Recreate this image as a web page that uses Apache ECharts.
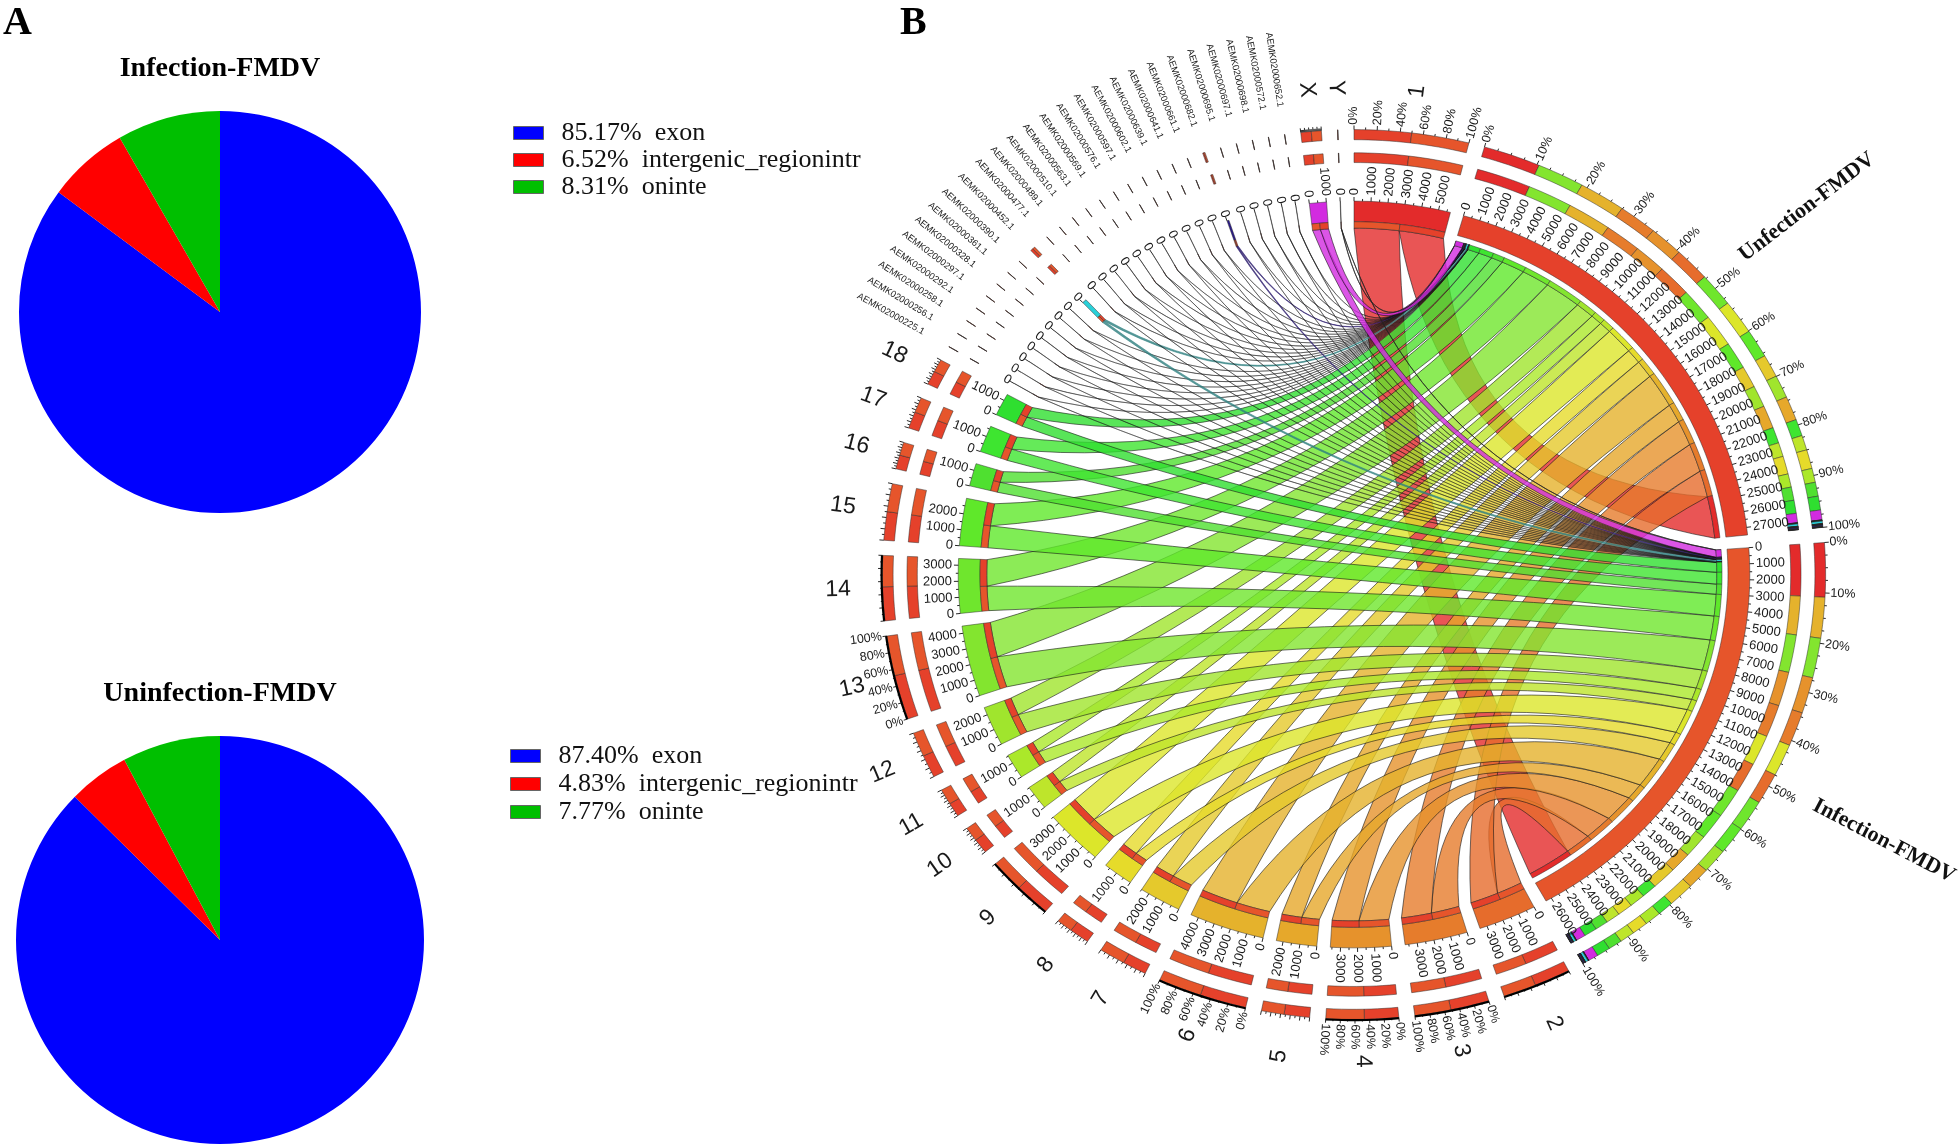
<!DOCTYPE html>
<html>
<head>
<meta charset="utf-8">
<title>FMDV pie and chord</title>
<script src="https://cdn.jsdelivr.net/npm/echarts@6/dist/echarts.min.js"></script>
<style>
html,body{margin:0;padding:0;background:#fff}
#main{width:1960px;height:1144px}
</style>
</head>
<body>
<div id="main"></div>
<script>
// panel A
var pieColors = ['#0000ff', '#ff0000', '#00bf00'];
var infectionLegend = ['85.17%  exon', '6.52%  intergenic_regionintr', '8.31%  oninte'];
var infectionValues = [85.17, 6.52, 8.31];
var uninfectionLegend = ['87.40%  exon', '4.83%  intergenic_regionintr', '7.77%  oninte'];
var uninfectionValues = [87.40, 4.83, 7.77];

// panel B: chromosomes, read from the ribbon ends
var chromNames = ['1','2','3','4','5','6','7','8','9','10','11','12','13','14','15','16','17','18'];
var chromToUnfection = [2850,1800,1920,1700,1270,2320,1200,1000,1800,780,740,1200,2350,1780,1500,740,880,730];
var chromToInfection = [2860,1640,1800,1900,1130,2150,1300,800,1700,750,820,1280,2100,1640,1480,690,800,680];
var chromColors = ['#e32b2b','#e66c2c','#e67c2c','#e6922c','#e6a82b','#e5b22c','#e5c92c','#e6db2a','#dce62a',
  '#bee52b','#abe82a','#a0e52d','#83e52f','#6fe62d','#5fe82a','#4fe030','#3ee530','#2fdf30'];

var contigNames = ['AEMK02000225.1','AEMK02000256.1','AEMK02000258.1','AEMK02000292.1','AEMK02000297.1','AEMK02000328.1',
  'AEMK02000361.1','AEMK02000390.1','AEMK02000452.1','AEMK02000477.1','AEMK02000489.1','AEMK02000510.1','AEMK02000563.1',
  'AEMK02000569.1','AEMK02000576.1','AEMK02000597.1','AEMK02000602.1','AEMK02000639.1','AEMK02000641.1','AEMK02000661.1',
  'AEMK02000682.1','AEMK02000695.1','AEMK02000697.1','AEMK02000698.1','AEMK02000572.1','AEMK02000652.1'];
var contigToUnfection = [8,8,8,8,8,8,8,8,130,8,8,8,8,8,8,8,8,8,8,8,60,8,8,8,8,8];
var contigToInfection = [6,6,6,6,6,6,6,6,130,6,6,6,6,6,6,6,6,6,6,6,60,6,6,6,6,6];
var contigColors = {8:'#2ad0d8', 20:'#2a1a8c'};
var contigRibbonColors = {8:'#2e7f80', 20:'#2a1a6c'};

var sexNames = ['X','Y'];
var sexToUnfection = [520,12];
var sexToInfection = [500,8];
var sexColors = ['#d22be0','#222222'];

var unfectionColor = '#e5412b';
var infectionColor = '#e6552b';

// stacking order of the two outer rings on the big sectors
var unfectionRing = ['1','13','6','3','4','2','14','9','15','7','12','5','17','10','8','11','16','18','X'];
var infectionRing = ['1','6','13','4','3','9','2','14','15','12','5','7','17','11','8','10','16','18','X'];
var percentLabelled = ['1','3','4','6','13'];
var boldEdge = ['2','3','4','6','9','13','14'];

var GAP = 1.96;
var FLIP_AT = 184.5;
var sans = '"Liberation Sans", Arial, sans-serif';
var serif = '"Liberation Serif", "Times New Roman", serif';

// sector table, clockwise from 12 o'clock
var sectors = [];
function addSource(name, unf, inf, color, kind, ribbon) {
  sectors.push({name:name, unf:unf, inf:inf, size:unf+inf, color:color, kind:kind, ribbon:ribbon});
}
addSource(chromNames[0], chromToUnfection[0], chromToInfection[0], chromColors[0], 'chrom');
sectors.push({name:'Unfection-FMDV', kind:'big', color:unfectionColor});
sectors.push({name:'Infection-FMDV', kind:'big', color:infectionColor});
for (var i = 1; i < chromNames.length; i++) addSource(chromNames[i], chromToUnfection[i], chromToInfection[i], chromColors[i], 'chrom');
for (i = 0; i < contigNames.length; i++) addSource(contigNames[i], contigToUnfection[i], contigToInfection[i], contigColors[i] || '#111111', 'contig', contigRibbonColors[i]);
for (i = 0; i < sexNames.length; i++) addSource(sexNames[i], sexToUnfection[i], sexToInfection[i], sexColors[i], 'sex');

var sources = sectors.filter(function (s) { return s.kind !== 'big'; });
var bigUnf = sectors[1], bigInf = sectors[2];
bigUnf.size = sources.reduce(function (a, s) { return a + s.unf; }, 0);
bigInf.size = sources.reduce(function (a, s) { return a + s.inf; }, 0);
var total = sectors.reduce(function (a, s) { return a + s.size; }, 0);
var perUnit = (360 - GAP * sectors.length) / total;
var pos = 0;
sectors.forEach(function (s) { s.a0 = pos; s.a1 = pos + s.size * perUnit; pos = s.a1 + GAP; });

function findSector(name) { return sectors.filter(function (s) { return s.name === name; })[0]; }

// geometry in unit-circle data space, the cartesian axes take it to pixels
function xy(r, deg) { var t = deg * Math.PI / 180; return [r * Math.sin(t), r * Math.cos(t)]; }
function arc(r, a0, a1) {
  var n = Math.max(1, Math.ceil(Math.abs(a1 - a0))), pts = [];
  for (var k = 0; k <= n; k++) pts.push(xy(r, a0 + (a1 - a0) * k / n));
  return pts;
}
function bezier(a, ra, b, rb) {
  var d = ((b - a) % 360 + 360) % 360;
  var short = d > 180 ? 360 - d : d;
  var mid = d > 180 ? a - short / 2 : a + short / 2;
  var c = xy(0.56 * (1 - short / 180), mid), p0 = xy(ra, a), p1 = xy(rb, b), pts = [];
  for (var k = 1; k < 24; k++) {
    var t = k / 24, u = 1 - t;
    pts.push([u*u*p0[0] + 2*u*t*c[0] + t*t*p1[0], u*u*p0[1] + 2*u*t*c[1] + t*t*p1[1]]);
  }
  return pts;
}
function cell(a0, a1, r0, r1) { return arc(r1, a0, a1).concat(arc(r0, a1, a0)); }
function rgba(hex, alpha) {
  var n = parseInt(hex.slice(1), 16);
  return 'rgba(' + (n >> 16) + ',' + ((n >> 8) & 255) + ',' + (n & 255) + ',' + alpha + ')';
}

var ribbons = [], rings = [], ticks = [], labels = [];
var R_THICK = [0.942, 0.997], R_THIN = [0.925, 0.942], R_BIGTHIN = [0.914, 0.927];
var R_RING1 = [1.10, 1.126], R_RING2 = [1.161, 1.188];

// inner ends on the two big sectors run the reverse of the circle order
var inward = sources.slice(1).reverse().concat([sources[0]]);
var offU = bigUnf.a0, offI = bigInf.a0;
inward.forEach(function (s) {
  s.uA0 = offU; offU += s.unf * perUnit; s.uA1 = offU;
  s.iA0 = offI; offI += s.inf * perUnit; s.iA1 = offI;
  rings.push({pts:cell(s.uA0, s.uA1, R_BIGTHIN[0], R_BIGTHIN[1]), fill:s.color});
  rings.push({pts:cell(s.iA0, s.iA1, R_BIGTHIN[0], R_BIGTHIN[1]), fill:s.color});
});

// ribbons and sector cells
sources.forEach(function (s) {
  var mid = s.a0 + s.inf * perUnit;
  var plain = s.color === '#111111';
  var base = s.ribbon || s.color;
  var fill = rgba(base, plain ? 0.6 : 0.8);
  var stroke = s.kind === 'chrom' || s.name === 'X' ? 'rgba(20,20,20,0.85)' : (plain ? 'rgba(25,25,25,0.72)' : rgba(base, 0.95));
  var lw = s.kind === 'contig' ? 0.6 : 0.7;
  [[s.iA0, s.iA1, s.a0, mid], [s.uA0, s.uA1, mid, s.a1]].forEach(function (e) {
    var pts = arc(R_THIN[0], e[2], e[3]).concat(bezier(e[3], R_THIN[0], e[0], R_BIGTHIN[0]))
      .concat(arc(R_BIGTHIN[0], e[0], e[1])).concat(bezier(e[1], R_BIGTHIN[0], e[2], R_THIN[0]));
    ribbons.push({pts:pts, fill:fill, stroke:stroke, lw:lw});
  });
  rings.push({pts:cell(s.a0, s.a1, R_THICK[0], R_THICK[1]), fill:s.color});
  rings.push({pts:cell(s.a0, mid, R_THIN[0], R_THIN[1]), fill:infectionColor});
  rings.push({pts:cell(mid, s.a1, R_THIN[0], R_THIN[1]), fill:unfectionColor});
  var split = s.a0 + s.unf * perUnit;
  [R_RING1, R_RING2].forEach(function (r) {
    rings.push({pts:cell(s.a0, split, r[0], r[1]), fill:unfectionColor});
    rings.push({pts:cell(split, s.a1, r[0], r[1]), fill:infectionColor});
  });
});

// big sector rings, stacked by size
[[bigUnf, unfectionRing, 'unf'], [bigInf, infectionRing, 'inf']].forEach(function (b) {
  var s = b[0], key = b[2], named = b[1].map(findSector);
  var rest = sources.filter(function (x) { return named.indexOf(x) < 0; });
  var off = s.a0;
  rings.push({pts:cell(s.a0, s.a1, R_THICK[0], R_THICK[1]), fill:s.color});
  named.concat(rest).forEach(function (x) {
    var w = x[key] * perUnit;
    [R_RING1, R_RING2].forEach(function (r) {
      rings.push({pts:cell(off, off + w, r[0], r[1]), fill:x.color});
    });
    off += w;
  });
});

function addTick(r, ang, len, lw) { ticks.push({p0:xy(r, ang), p1:xy(r + len, ang), lw:lw}); }
function addLabel(text, r, ang, font, center) { labels.push({text:text, r:r, ang:ang, font:font, center:center}); }

// axes
sectors.forEach(function (s) {
  var v, midAng = (s.a0 + s.a1) / 2;
  for (v = 0; v <= s.size; v += 500) {
    var major = v % 1000 === 0;
    if (s.kind === 'contig' && v > 0) break;
    addTick(0.997, s.a0 + v * perUnit, major ? 0.011 : 0.006, 0.9);
    if (major) addLabel(String(v), s.kind === 'contig' ? 1.007 : 1.013, s.a0 + v * perUnit, '13px ' + sans);
  }
  if (s.kind === 'contig') {
    addLabel(s.name, 1.262, midAng, '9.3px ' + sans);
    return;
  }
  if (s.name === 'Y') { addLabel('Y', 1.30, midAng, '23px ' + sans, true); return; }
  var labelled = s.kind === 'big' || percentLabelled.indexOf(s.name) >= 0;
  var step = s.kind === 'big' ? 2.5 : (s.name === 'X' ? 5 : 10);
  var every = s.kind === 'big' ? 10 : 20;
  for (v = 0; v <= 100; v += step) {
    var ang = s.a0 + (s.a1 - s.a0) * v / 100;
    var isMajor = v % every === 0;
    addTick(R_RING2[1], ang, isMajor ? 0.011 : 0.006, 0.9);
    if (labelled && isMajor) addLabel(v + '%', 1.201, ang, '12.5px ' + sans);
  }
  if (boldEdge.indexOf(s.name) >= 0) ticks.push({line:arc(R_RING2[1] + 0.002, s.a0, s.a1), lw:2.2});
  if (s.kind !== 'big') addLabel(s.name, 1.30, midAng, '23px ' + sans, true);
});

function renderRibbon(params, api) {
  var m = ribbons[params.dataIndex];
  return {type:'polygon', shape:{points:m.pts.map(function (p) { return api.coord(p); })},
    style:{fill:m.fill, stroke:m.stroke, lineWidth:m.lw}};
}
function renderRing(params, api) {
  var m = rings[params.dataIndex];
  return {type:'polygon', shape:{points:m.pts.map(function (p) { return api.coord(p); })},
    style:{fill:m.fill, stroke:'rgba(40,40,40,0.8)', lineWidth:0.6}};
}
function renderTick(params, api) {
  var m = ticks[params.dataIndex];
  if (m.line) return {type:'polyline', shape:{points:m.line.map(function (p) { return api.coord(p); })},
    style:{fill:null, stroke:'#000', lineWidth:m.lw}};
  var a = api.coord(m.p0), b = api.coord(m.p1);
  return {type:'line', shape:{x1:a[0], y1:a[1], x2:b[0], y2:b[1]}, style:{stroke:'#111', lineWidth:m.lw}};
}
function renderLabel(params, api) {
  var m = labels[params.dataIndex];
  var a = api.coord(xy(m.r, m.ang)), b = api.coord(xy(m.r + 0.1, m.ang));
  var dir = Math.atan2(a[1] - b[1], b[0] - a[0]);
  var out = m.ang < FLIP_AT;
  return {type:'text', x:a[0], y:a[1], rotation: out ? dir : dir + Math.PI,
    style:{text:m.text, font:m.font, fill:'#1a1a1a', align: m.center ? 'center' : (out ? 'left' : 'right'), verticalAlign:'middle'}};
}
function customSeries(list, render, z) {
  return {type:'custom', coordinateSystem:'cartesian2d', clip:false, silent:true, animation:false, z:z,
    data:list.map(function (m, k) { return [k, k]; }), renderItem:render};
}
function pieSeries(names, values, center, radius) {
  return {type:'pie', center:center, radius:radius, startAngle:90, clockwise:true, animation:false, silent:true,
    label:{show:false}, labelLine:{show:false}, itemStyle:{borderWidth:0},
    data:names.map(function (n, k) { return {name:n, value:values[k], itemStyle:{color:pieColors[k]}}; })};
}
function legendBlock(names, left, top, gap) {
  return {data:names, left:left, top:top, orient:'vertical', icon:'rect', itemWidth:30, itemHeight:13, itemGap:gap,
    selectedMode:false, padding:0, itemStyle:{borderColor:'#666', borderWidth:1},
    textStyle:{fontFamily:serif, fontSize:26, color:'#111', padding:[0,0,0,13]}};
}

var chart = echarts.init(document.getElementById('main'), null, {renderer:'canvas'});
chart.setOption({
  backgroundColor:'#fff',
  animation:false,
  title:[
    {text:'A', left:3, top:4, padding:0, textStyle:{fontFamily:serif, fontSize:40, fontWeight:'bold', color:'#000'}},
    {text:'B', left:900, top:4, padding:0, textStyle:{fontFamily:serif, fontSize:40, fontWeight:'bold', color:'#000'}},
    {text:'Infection-FMDV', left:220, top:55, padding:0, textAlign:'center', textStyle:{fontFamily:serif, fontSize:28, fontWeight:'bold', color:'#000'}},
    {text:'Uninfection-FMDV', left:220, top:680, padding:0, textAlign:'center', textStyle:{fontFamily:serif, fontSize:28, fontWeight:'bold', color:'#000'}}
  ],
  legend:[legendBlock(infectionLegend, 513, 120, 1), legendBlock(uninfectionLegend, 510, 743, 2)],
  grid:{left:758.5, top:12.75, width:1191, height:1123.5},
  xAxis:{type:'value', min:-1.5, max:1.5, show:false},
  yAxis:{type:'value', min:-1.5, max:1.5, show:false},
  graphic:[
    {type:'text', x:1807, y:207, rotation:37.6 * Math.PI / 180, style:{text:bigUnf.name, font:'bold 22px ' + serif, fill:'#111', align:'center', verticalAlign:'middle'}},
    {type:'text', x:1884, y:841, rotation:-27.7 * Math.PI / 180, style:{text:bigInf.name, font:'bold 22px ' + serif, fill:'#111', align:'center', verticalAlign:'middle'}}
  ],
  series:[
    pieSeries(infectionLegend, infectionValues, [220, 312], 201),
    pieSeries(uninfectionLegend, uninfectionValues, [220, 940], 204),
    customSeries(ribbons, renderRibbon, 2),
    customSeries(rings, renderRing, 3),
    customSeries(ticks, renderTick, 4),
    customSeries(labels, renderLabel, 5)
  ]
});
</script>
</body>
</html>
